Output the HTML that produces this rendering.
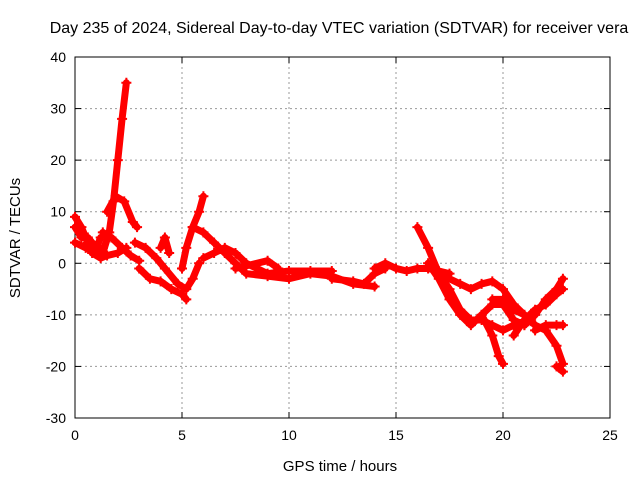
<!DOCTYPE html>
<html><head><meta charset="utf-8"><style>
body{margin:0;background:#fff}
svg{display:block;font-family:"Liberation Sans",sans-serif}
</style></head><body>
<svg id="chart" width="640" height="480">
<rect width="640" height="480" fill="#fff"/>
<text x="339" y="33" text-anchor="middle" font-size="16">Day 235 of 2024, Sidereal Day-to-day VTEC variation (SDTVAR) for receiver vera</text>
<g id="grid"></g><g id="axes"></g><g id="data"></g>
<text x="340" y="471" text-anchor="middle" font-size="15">GPS time / hours</text>
<text transform="translate(20,238) rotate(-90)" text-anchor="middle" font-size="15">SDTVAR / TECUs</text>
</svg>
<script>
const xTicks=[0,5,10,15,20,25];
const yTicks=[-30,-20,-10,0,10,20,30,40];
const tracks=[
[[0,9],[0.3,7],[0.6,4],[0.8,2],[1.2,1],[1.5,1.5],[2,2],[2.4,3]],
[[1.3,2],[1.6,6],[1.8,12],[2,20],[2.2,28],[2.4,35]],
[[0,7],[0.3,5],[0.6,5],[1,3],[1.2,5]],
[[0,4],[0.5,3],[1,2],[1.3,3]],
[[1.5,10],[1.9,13],[2.3,12],[2.7,8],[2.9,7]],
[[1.3,6],[1.7,5],[2.2,3],[2.6,1.5],[3,0.5]],
[[2.8,4],[3.3,3],[3.8,1],[4.2,-1],[4.8,-4],[5.2,-5],[5.5,-3],[5.8,0]],
[[3,-1],[3.5,-3],[4,-3.5],[4.5,-5],[5,-6],[5.2,-7]],
[[4,3],[4.2,5],[4.4,2]],
[[5,-1],[5.2,3],[5.5,7],[5.8,10],[6,13]],
[[5.5,7],[6,6],[6.5,4],[7,2],[7.5,0],[8,-2],[9,-2.5],[10,-3],[11,-2],[12,-2.5],[13,-4],[14,-4.5]],
[[6,1],[6.5,2],[7,3],[7.5,2],[8,0],[8.5,-1],[9,-2],[10,-1.5],[11,-1.5],[12,-1.5]],
[[7.5,-1],[8,-0.5],[9,0.5],[9.5,-1]],
[[12,-3],[13,-3.5],[13.5,-4],[14,-2],[14.5,-1]],
[[14,-1],[14.5,0],[15,-1],[15.5,-1.5],[16,-1],[16.5,-1],[17,-1.5],[17.5,-2]],
[[16,7],[16.5,3],[17,-2],[17.5,-5],[18,-9],[18.5,-11],[19,-11],[19.5,-12],[20,-13],[20.5,-12]],
[[16.5,0],[17,-3],[17.5,-7],[18,-10],[18.5,-12],[19,-10],[19.5,-8],[20,-8],[20.5,-11],[21,-12]],
[[17,-2],[18,-4],[18.5,-5],[19,-4],[19.5,-3.5],[20,-5],[20.5,-8],[21,-10]],
[[19,-10],[19.5,-14],[19.8,-18],[20,-19.5]],
[[19.5,-7],[20,-7],[20.5,-9],[21,-10],[21.5,-12],[22,-13],[22.5,-16],[22.8,-19.5]],
[[20.5,-14],[21,-11],[21.5,-9],[22,-8],[22.5,-6],[22.8,-5]],
[[21,-12],[21.5,-10],[22,-7],[22.5,-5],[22.8,-3]],
[[21.5,-13],[22,-12],[22.5,-12],[22.8,-12]],
[[22.5,-20],[22.8,-21]]
];
const L=75,R=610,T=57,B=418;
const sx=v=>L+(v-0)/(25-0)*(R-L);
const sy=v=>B-(v+30)/70*(B-T);
const NS='http://www.w3.org/2000/svg';
function mk(p,tag,at){const e=document.createElementNS(NS,tag);for(const k in at)e.setAttribute(k,at[k]);p.appendChild(e);return e;}
const grid=document.getElementById('grid'),axes=document.getElementById('axes'),data=document.getElementById('data');
xTicks.forEach(t=>{const x=sx(t);
 if(t>0&&t<25){const g=mk(grid,'line',{x1:x,y1:T,x2:x,y2:B,stroke:'#999','stroke-dasharray':'2,3'});}
 mk(axes,'line',{x1:x,y1:B,x2:x,y2:B-6,stroke:'#000'});mk(axes,'line',{x1:x,y1:T,x2:x,y2:T+6,stroke:'#000'});
 const tx=mk(axes,'text',{x:x,y:B+22,'text-anchor':'middle','font-size':14});tx.textContent=t;
 });
yTicks.forEach(t=>{const y=sy(t);
 if(t>-30&&t<40){const g=mk(grid,'line',{x1:L,y1:y,x2:R,y2:y,stroke:'#999','stroke-dasharray':'2,3'});}
 mk(axes,'line',{x1:L,y1:y,x2:L+6,y2:y,stroke:'#000'});mk(axes,'line',{x1:R,y1:y,x2:R-6,y2:y,stroke:'#000'});
 const tx=mk(axes,'text',{x:L-9,y:y+5,'text-anchor':'end','font-size':14});tx.textContent=t;
 });
const fr=mk(axes,'rect',{x:L,y:T,width:R-L,height:B-T,fill:'none',stroke:'#000'});

tracks.forEach(tr=>{
 const pl=mk(data,'polyline',{points:tr.map(p=>sx(p[0])+','+sy(p[1])).join(' '),fill:'none',stroke:'#f00','stroke-width':7,'stroke-linejoin':'round','stroke-linecap':'round'});
 
 tr.forEach(p=>{const x=sx(p[0]),y=sy(p[1]);
  const m=mk(data,'path',{d:`M${x-5},${y}H${x+5}M${x},${y-5}V${y+5}`,stroke:'#f00','stroke-width':2});
  });
});
</script>
</body></html>
